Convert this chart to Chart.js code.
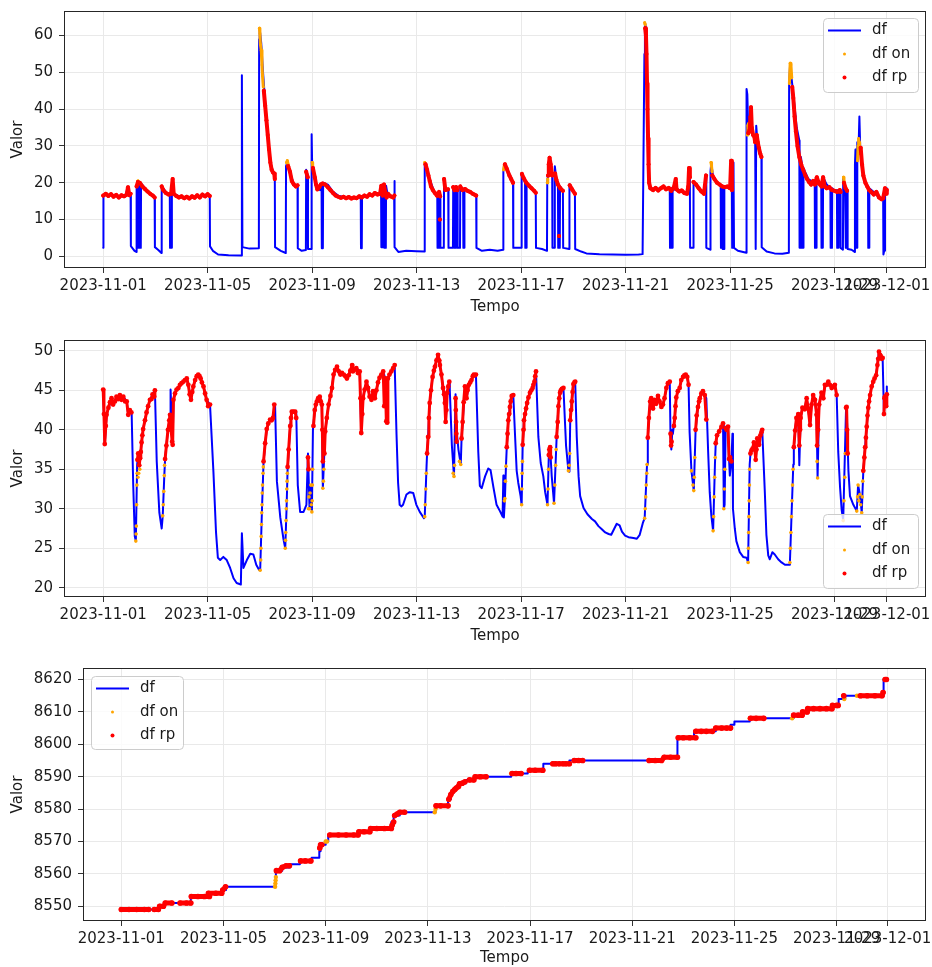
<!DOCTYPE html>
<html><head><meta charset="utf-8">
<script src="https://cdn.jsdelivr.net/npm/chart.js@4.4.1/dist/chart.umd.min.js"></script>
<style>
html,body{margin:0;padding:0;background:#fff;}
#wrap{position:relative;width:932px;height:967px;overflow:hidden;}
canvas{position:absolute;left:0;}
</style></head><body>
<div id="wrap">
<canvas id="c1" width="932" height="322" style="top:0px"></canvas>
<canvas id="c2" width="932" height="330" style="top:326px"></canvas>
<canvas id="c3" width="932" height="311" style="top:656px"></canvas>
</div>
<script>
// ---------- tick labels (x in days since 2023-11-01) ----------
const xTickDays = [0,4,8,12,16,20,24,28,30];
const xTickLabels = ['2023-11-01','2023-11-05','2023-11-09','2023-11-13','2023-11-17','2023-11-21','2023-11-25','2023-11-29','2023-12-01'];
const legendLabels = ['df','df on','df rp'];
const yTicks1 = [0,10,20,30,40,50,60];
const yTicks2 = [20,25,30,35,40,45,50];
const yTicks3 = [8550,8560,8570,8580,8590,8600,8610,8620];

// ---------- subplot 1 ----------
const df1 = [[0.00,2.3],[0.01,16.5],[0.3,16.8],[0.6,16.2],[0.85,16.5],[0.95,18.8],[1.0,16.5],[1.05,16.8],[1.06,2.8],[1.2,1.5],[1.27,1.2],[1.28,19.0],[1.3,19.5],[1.31,2.3],[1.35,2.3],[1.36,20.0],[1.39,19.8],[1.4,2.3],[1.44,2.3],[1.45,19.8],[1.6,18.5],[1.8,17.0],[1.97,16.0],[1.98,2.5],[2.1,1.8],[2.23,0.9],[2.24,19.0],[2.4,17.5],[2.55,16.5],[2.56,2.3],[2.62,2.3],[2.63,17.5],[2.66,21.0],[2.7,17.0],[3.0,16.0],[3.3,15.8],[3.6,16.2],[3.9,16.5],[4.08,16.3],[4.09,2.7],[4.2,1.5],[4.4,0.5],[4.8,0.3],[5.3,0.2],[5.31,49.2],[5.33,2.5],[5.6,2.1],[5.96,2.2],[5.97,59.0],[5.99,62.0],[6.05,58.0],[6.12,50.0],[6.18,44.0],[6.3,33.0],[6.42,25.0],[6.5,23.0],[6.57,22.0],[6.58,2.5],[6.8,1.5],[6.99,0.9],[7.0,24.5],[7.05,25.5],[7.15,23.0],[7.3,19.5],[7.44,19.0],[7.45,2.2],[7.6,1.5],[7.76,1.7],[7.77,23.5],[7.83,22.0],[7.84,2.0],[7.97,2.0],[7.98,33.2],[8.0,25.0],[8.05,23.0],[8.15,19.0],[8.3,18.0],[8.36,19.0],[8.37,2.2],[8.41,2.2],[8.42,20.0],[8.6,19.5],[8.8,17.5],[9.0,16.5],[9.3,15.9],[9.6,15.8],[9.86,16.0],[9.87,2.2],[9.9,2.2],[9.91,16.2],[10.2,16.5],[10.5,17.2],[10.64,16.5],[10.65,2.5],[10.7,2.5],[10.71,19.0],[10.76,18.5],[10.77,2.3],[10.82,2.3],[10.83,19.2],[10.87,17.5],[11.0,16.5],[11.14,16.0],[11.15,20.5],[11.16,2.5],[11.3,1.2],[11.6,1.5],[12.0,1.4],[12.3,1.3],[12.31,25.5],[12.35,24.5],[12.5,21.0],[12.65,18.0],[12.79,16.5],[12.8,2.3],[12.84,2.3],[12.85,17.5],[12.9,16.0],[12.91,2.3],[13.04,2.3],[13.05,21.2],[13.1,18.0],[13.21,18.0],[13.22,2.3],[13.39,2.3],[13.4,19.0],[13.45,18.0],[13.46,2.3],[13.5,2.3],[13.51,19.0],[13.56,18.0],[13.57,2.3],[13.66,2.3],[13.67,19.0],[13.78,18.0],[13.79,2.3],[13.82,2.3],[13.83,18.5],[14.0,17.5],[14.28,16.5],[14.29,2.3],[14.5,1.5],[14.8,1.8],[15.1,1.5],[15.31,1.8],[15.32,23.0],[15.35,25.0],[15.45,24.0],[15.6,21.5],[15.69,20.0],[15.7,2.3],[16.01,2.3],[16.02,22.4],[16.1,21.0],[16.15,20.0],[16.16,2.3],[16.2,2.3],[16.21,20.0],[16.4,18.5],[16.56,17.5],[16.57,2.3],[16.8,2.0],[16.99,1.5],[17.0,20.0],[17.08,26.5],[17.12,25.0],[17.19,22.0],[17.2,2.3],[17.28,2.3],[17.29,24.5],[17.35,21.0],[17.41,19.0],[17.42,2.3],[17.48,2.3],[17.49,19.0],[17.6,17.8],[17.61,2.3],[17.84,2.0],[17.85,19.5],[17.95,18.0],[18.06,17.0],[18.07,2.0],[18.3,1.3],[18.5,0.8],[19.0,0.6],[19.5,0.5],[20.0,0.4],[20.5,0.5],[20.65,0.6],[20.72,55.0],[20.74,63.5],[20.78,62.0],[20.82,45.0],[20.86,30.0],[20.9,20.0],[20.95,18.5],[21.2,18.2],[21.4,18.8],[21.6,18.3],[21.69,18.5],[21.7,2.3],[21.71,18.5],[21.72,2.3],[21.74,18.5],[21.75,2.3],[21.77,18.0],[21.78,2.3],[21.8,18.5],[21.91,18.0],[21.92,21.0],[21.94,18.5],[22.1,17.8],[22.3,17.0],[22.38,18.0],[22.42,24.0],[22.46,22.0],[22.47,2.3],[22.59,2.3],[22.6,20.2],[22.8,18.5],[23.0,17.0],[23.07,17.5],[23.08,22.0],[23.09,2.3],[23.24,1.8],[23.25,23.0],[23.28,25.5],[23.35,21.5],[23.5,20.0],[23.64,19.0],[23.65,2.3],[23.7,2.3],[23.71,19.0],[23.72,2.0],[23.77,2.0],[23.78,19.0],[23.95,18.5],[24.03,18.5],[24.04,26.0],[24.07,18.0],[24.08,2.3],[24.12,2.3],[24.13,25.5],[24.15,2.3],[24.3,1.5],[24.62,1.0],[24.63,45.5],[24.66,44.0],[24.7,33.0],[24.75,35.0],[24.8,40.0],[24.85,33.0],[24.96,32.0],[24.97,2.0],[24.99,2.0],[25.0,35.5],[25.05,31.0],[25.15,28.0],[25.2,27.0],[25.21,2.5],[25.4,1.3],[25.7,0.8],[26.0,0.7],[26.25,1.0],[26.26,47.0],[26.3,52.5],[26.36,48.0],[26.45,42.0],[26.55,35.0],[26.65,31.5],[26.66,2.3],[26.7,2.3],[26.71,27.0],[26.75,25.0],[26.76,2.3],[26.8,2.3],[26.81,24.0],[26.9,22.5],[27.0,21.0],[27.1,20.5],[27.24,19.5],[27.25,2.3],[27.3,2.3],[27.31,21.5],[27.4,20.0],[27.49,19.5],[27.5,2.3],[27.55,2.3],[27.56,21.5],[27.7,19.5],[27.84,18.5],[27.85,2.3],[27.9,2.3],[27.91,18.5],[28.05,17.5],[28.09,18.0],[28.1,2.3],[28.14,2.3],[28.15,18.0],[28.22,17.5],[28.23,2.3],[28.32,1.8],[28.33,21.5],[28.4,19.0],[28.43,2.3],[28.46,2.3],[28.47,18.0],[28.49,17.5],[28.5,2.0],[28.65,1.8],[28.77,1.2],[28.78,25.0],[28.8,29.0],[28.82,2.3],[28.86,2.3],[28.87,31.0],[28.92,30.0],[28.95,38.0],[28.98,30.0],[29.05,24.0],[29.1,22.0],[29.2,19.5],[29.28,19.0],[29.29,2.3],[29.32,2.3],[29.33,18.5],[29.5,17.5],[29.7,16.0],[29.86,15.5],[29.87,0.5],[29.9,1.5],[29.93,16.5],[29.97,18.5],[30.0,17.0]];
const on1 = [[1.33,20.5],[1.35,20.0],null,[5.98,62.0],[6.0,60.5],[6.02,57.5],[6.05,56.0],[6.08,52.0],[6.1,49.0],[6.13,46.0],null,[7.02,25.5],[7.05,26.0],[7.08,25.0],null,[8.0,25.5],[8.02,24.5],null,[12.31,25.5],[12.33,25.0],null,[15.33,23.5],[15.36,25.0],null,[17.0,20.0],[17.02,21.0],null,[20.73,63.5],[20.75,63.0],null,[23.27,25.5],[23.29,24.5],[23.31,23.0],null,[24.66,33.0],[24.68,35.5],[24.7,36.0],[24.72,33.5],null,[26.27,47.0],[26.3,52.5],[26.33,52.0],[26.36,48.5],null,[28.34,21.5],[28.36,20.5],null,[28.88,26.0],[28.9,30.0],[28.92,32.0],[28.94,31.0],[28.96,28.0]];
const rp1 = [[0.0,16.5],[0.1,17.0],[0.2,16.4],[0.3,16.9],[0.4,16.2],[0.5,16.7],[0.6,16.0],[0.7,16.6],[0.8,16.3],[0.9,16.8],[0.95,18.8],[1.0,16.6],[1.05,17.0],null,
[1.28,19.0],[1.33,20.2],[1.4,20.0],[1.5,19.0],[1.6,18.3],[1.7,17.6],[1.8,17.0],[1.9,16.5],[1.97,16.0],null,
[2.24,19.0],[2.3,18.0],[2.4,17.2],[2.5,16.8],[2.6,17.0],[2.66,21.0],[2.7,17.0],[2.8,16.4],[2.9,16.0],[3.0,16.3],[3.1,15.8],[3.2,16.2],[3.3,15.7],[3.4,16.3],[3.5,15.9],[3.6,16.6],[3.7,16.0],[3.8,16.8],[3.9,16.3],[4.0,16.9],[4.08,16.4],null,
[6.15,45.0],[6.2,41.0],[6.25,37.0],[6.3,33.0],[6.35,29.0],[6.4,25.5],[6.45,23.5],[6.5,22.8],[6.55,22.5],[6.57,21.0],null,
[7.08,24.5],[7.15,23.0],[7.22,20.5],[7.3,19.5],[7.38,19.0],[7.44,19.3],null,
[7.77,23.0],[7.83,21.5],null,
[8.03,24.0],[8.1,21.5],[8.15,19.5],[8.2,18.2],[8.27,18.8],[8.33,19.5],[8.4,19.8],[8.5,19.5],[8.6,18.8],[8.7,18.0],[8.8,17.2],[8.9,16.5],[9.0,16.2],[9.1,15.9],[9.2,16.2],[9.3,15.8],[9.4,16.1],[9.5,15.7],[9.6,16.0],[9.7,15.8],[9.8,16.3],[9.9,16.0],[10.0,16.5],[10.1,16.2],[10.2,16.9],[10.3,16.5],[10.4,17.2],[10.5,16.8],[10.6,17.0],[10.65,19.2],[10.7,16.5],[10.75,19.5],[10.8,17.2],[10.85,16.0],[10.9,17.0],[11.0,16.3],[11.1,16.0],[11.15,16.5],null,
[12.34,25.0],[12.4,23.5],[12.45,22.0],[12.5,20.5],[12.55,19.0],[12.62,18.0],[12.7,17.2],[12.78,16.5],[12.86,17.5],[12.9,16.3],null,
[12.89,10.0],null,
[13.05,21.0],[13.1,18.0],[13.2,18.2],null,
[13.4,18.8],[13.45,18.0],null,
[13.51,18.8],[13.56,18.0],null,
[13.67,19.0],[13.75,18.0],[13.85,18.3],[13.95,17.8],[14.05,17.5],[14.15,17.0],[14.28,16.5],null,
[15.38,25.0],[15.45,23.8],[15.55,22.0],[15.62,21.0],[15.69,20.0],null,
[16.03,22.4],[16.1,21.2],[16.2,20.0],[16.3,19.2],[16.4,18.5],[16.5,17.8],[16.56,17.3],null,
[17.03,22.0],[17.06,25.0],[17.09,26.8],[17.13,25.0],[17.19,22.0],null,
[17.3,22.5],[17.35,20.8],[17.41,19.5],[17.5,18.5],[17.6,17.8],null,
[17.45,5.5],null,
[17.86,19.3],[17.95,18.2],[18.06,17.0],null,
[20.75,62.0],[20.78,60.0],[20.8,55.0],[20.82,47.0],[20.84,40.0],[20.86,32.0],[20.88,25.0],[20.9,20.0],[20.95,18.5],[21.05,18.0],[21.15,18.6],[21.25,17.9],[21.35,18.5],[21.45,19.0],[21.55,18.2],[21.65,18.6],[21.75,17.8],[21.85,18.8],[21.92,21.0],[21.95,18.2],[22.05,17.6],[22.15,17.9],[22.25,17.2],[22.35,17.0],[22.4,19.0],[22.43,24.0],[22.46,21.5],null,
[22.6,20.2],[22.7,19.5],[22.8,18.5],[22.9,17.6],[23.0,17.0],[23.08,22.0],null,
[23.32,22.0],[23.4,21.0],[23.5,20.0],[23.6,19.5],[23.7,19.0],[23.8,18.8],[23.9,19.0],[24.0,18.5],[24.04,26.0],[24.07,18.0],null,
[24.7,33.5],[24.75,34.5],[24.78,38.0],[24.8,40.5],[24.83,35.0],[24.88,33.0],[24.93,32.5],[24.96,31.0],null,
[25.02,33.0],[25.06,31.0],[25.1,29.5],[25.15,28.0],[25.2,27.0],null,
[26.38,46.0],[26.42,43.0],[26.47,38.0],[26.52,34.0],[26.58,30.0],[26.65,27.0],[26.72,25.0],[26.8,23.5],[26.88,22.0],[26.95,21.0],[27.02,20.2],[27.1,19.5],[27.18,20.5],[27.25,19.5],[27.32,21.5],[27.4,19.8],[27.5,19.0],[27.56,21.5],[27.62,19.0],[27.7,18.5],[27.8,18.8],[27.9,18.0],[28.0,17.8],[28.1,17.5],[28.2,18.0],[28.23,17.5],null,
[28.36,20.0],[28.42,18.5],[28.48,17.8],null,
[29.0,29.5],[29.05,25.0],[29.1,22.0],[29.18,20.0],[29.25,19.0],[29.32,18.0],[29.4,17.5],[29.5,16.8],[29.6,17.5],[29.7,16.0],[29.8,15.5],[29.86,15.8],[29.93,18.5],[29.97,17.0],[30.0,18.0]];

// ---------- subplot 2 ----------
const df2 = [[0,45.0],[0.06,38.2],[0.13,41.9],[0.32,44.0],[0.38,43.2],[0.51,44.2],[0.64,44.4],[0.77,44.2],[0.9,43.6],[0.96,41.9],[1.02,42.5],[1.09,42.1],[1.15,33.0],[1.21,26.5],[1.25,25.9],[1.3,35.6],[1.34,37.0],[1.41,36.4],[1.47,38.4],[1.53,40.1],[1.66,42.2],[1.79,43.8],[1.89,44.5],[1.98,45.1],[2.05,36.0],[2.15,29.5],[2.24,27.5],[2.28,29.1],[2.34,34.2],[2.37,36.3],[2.45,39.0],[2.56,41.9],[2.58,45.1],[2.66,38.1],[2.69,43.8],[2.81,45.1],[2.94,45.7],[3.07,46.1],[3.2,46.5],[3.26,45.7],[3.36,43.8],[3.45,45.5],[3.58,46.8],[3.64,47.0],[3.73,46.5],[3.84,45.5],[3.96,43.8],[4.09,43.2],[4.22,34.7],[4.32,27.0],[4.39,23.8],[4.48,23.5],[4.6,23.9],[4.73,23.5],[4.86,22.5],[4.99,21.2],[5.11,20.6],[5.27,20.4],[5.31,26.9],[5.37,22.5],[5.5,23.5],[5.63,24.3],[5.75,24.2],[5.86,22.9],[5.96,22.3],[6.01,22.2],[6.08,30.0],[6.14,36.0],[6.26,40.1],[6.39,41.3],[6.5,41.5],[6.58,43.2],[6.65,33.5],[6.78,28.9],[6.9,26.2],[6.97,25.0],[7.02,30.0],[7.06,35.0],[7.16,40.5],[7.22,42.3],[7.35,42.3],[7.39,42.3],[7.45,33.0],[7.54,29.6],[7.67,29.6],[7.78,30.5],[7.84,37.0],[7.9,30.0],[7.95,33.0],[7.99,29.6],[8.03,40.0],[8.1,42.5],[8.18,43.6],[8.29,44.2],[8.37,43.2],[8.41,32.6],[8.5,39.8],[8.63,43.2],[8.76,45.3],[8.82,47.0],[8.95,48.0],[9.08,47.0],[9.21,47.0],[9.33,46.5],[9.46,47.5],[9.53,48.2],[9.56,47.4],[9.69,47.8],[9.82,47.4],[9.88,39.6],[9.95,44.0],[10.01,45.1],[10.08,46.1],[10.14,45.3],[10.2,44.2],[10.27,43.8],[10.33,44.9],[10.4,44.0],[10.52,46.0],[10.65,47.0],[10.72,47.4],[10.8,46.5],[10.84,41.1],[10.87,40.9],[10.9,46.5],[11.03,47.4],[11.16,48.2],[11.23,39.4],[11.29,33.3],[11.35,30.5],[11.42,30.3],[11.48,30.5],[11.61,31.8],[11.74,32.1],[11.87,32.0],[11.99,30.5],[12.12,29.6],[12.28,28.8],[12.31,29.0],[12.38,35.4],[12.4,37.0],[12.44,39.1],[12.5,43.4],[12.61,46.7],[12.7,48.0],[12.76,48.8],[12.82,49.5],[12.89,48.2],[12.95,47.0],[13.01,45.3],[13.08,43.4],[13.11,41.0],[13.17,44.7],[13.25,46.1],[13.27,45.0],[13.35,38.0],[13.43,34.1],[13.49,44.5],[13.53,40.0],[13.6,37.5],[13.69,35.6],[13.72,38.9],[13.85,45.5],[13.91,44.0],[14.0,45.7],[14.1,46.3],[14.19,47.0],[14.27,47.0],[14.36,37.2],[14.42,32.9],[14.49,32.6],[14.62,34.1],[14.74,35.1],[14.83,34.9],[14.94,32.7],[15.06,30.5],[15.19,29.7],[15.29,29.0],[15.32,34.2],[15.34,28.9],[15.38,31.3],[15.42,35.4],[15.45,37.8],[15.51,41.2],[15.57,42.9],[15.64,44.3],[15.7,44.4],[15.77,39.1],[15.83,34.8],[15.89,33.3],[15.98,31.6],[16.02,30.5],[16.06,38.1],[16.11,41.2],[16.19,42.7],[16.28,44.1],[16.34,44.7],[16.44,45.3],[16.51,46.1],[16.57,47.4],[16.66,39.1],[16.75,35.8],[16.85,34.1],[16.92,32.1],[17.01,30.5],[17.06,36.8],[17.11,37.8],[17.17,34.2],[17.26,30.7],[17.36,39.1],[17.43,43.0],[17.49,44.7],[17.56,45.2],[17.62,45.3],[17.72,38.0],[17.81,34.8],[17.85,34.7],[17.88,41.2],[17.94,43.6],[18.0,45.8],[18.07,46.1],[18.13,39.1],[18.2,34.1],[18.26,31.6],[18.39,30.1],[18.54,29.3],[18.71,28.7],[18.83,28.4],[18.96,27.8],[19.09,27.4],[19.22,27.0],[19.35,26.8],[19.45,26.7],[19.54,27.3],[19.66,28.1],[19.77,27.9],[19.86,27.1],[19.98,26.6],[20.11,26.4],[20.3,26.3],[20.43,26.2],[20.54,26.7],[20.66,28.2],[20.73,28.8],[20.82,35.6],[20.85,39.0],[20.89,41.5],[20.94,43.6],[20.98,44.0],[21.05,42.7],[21.11,43.8],[21.17,43.3],[21.24,44.3],[21.3,43.6],[21.37,42.9],[21.43,43.2],[21.49,44.0],[21.56,45.3],[21.62,45.9],[21.69,46.1],[21.72,39.0],[21.75,37.5],[21.79,40.0],[21.81,39.5],[21.88,41.5],[21.94,44.1],[22.0,44.9],[22.07,45.3],[22.13,46.3],[22.2,46.7],[22.3,47.0],[22.36,46.7],[22.41,45.7],[22.45,39.7],[22.52,34.8],[22.61,32.3],[22.68,40.0],[22.77,42.9],[22.84,44.0],[22.9,44.6],[22.96,44.9],[23.03,44.4],[23.09,44.0],[23.16,37.2],[23.22,32.1],[23.28,29.2],[23.35,27.2],[23.42,35.6],[23.45,38.3],[23.5,39.3],[23.58,39.8],[23.67,40.4],[23.73,40.8],[23.76,30.0],[23.79,30.5],[23.83,40.2],[23.92,40.4],[23.96,36.3],[23.99,34.2],[24.05,36.0],[24.09,39.5],[24.11,30.0],[24.18,27.5],[24.24,25.9],[24.37,24.5],[24.5,23.9],[24.63,23.8],[24.69,23.2],[24.75,35.6],[24.78,37.0],[24.86,37.6],[24.91,38.4],[24.98,36.2],[25.04,38.9],[25.11,38.1],[25.16,39.3],[25.23,40.0],[25.33,32.1],[25.39,26.7],[25.46,24.1],[25.52,23.6],[25.62,24.5],[25.71,24.2],[25.84,23.6],[25.97,23.2],[26.1,22.9],[26.26,22.9],[26.29,23.2],[26.42,35.6],[26.44,37.8],[26.49,39.9],[26.54,41.5],[26.61,42.0],[26.65,35.5],[26.7,41.5],[26.77,42.8],[26.86,42.6],[26.93,44.0],[26.99,42.7],[27.06,40.6],[27.12,43.2],[27.18,44.4],[27.25,43.8],[27.31,41.9],[27.35,33.9],[27.41,43.2],[27.5,44.7],[27.57,44.0],[27.63,45.7],[27.69,45.7],[27.76,46.1],[27.82,45.7],[27.89,45.3],[27.95,45.5],[28.01,45.7],[28.08,44.4],[28.14,37.2],[28.21,32.7],[28.27,29.9],[28.33,28.5],[28.44,42.8],[28.46,42.9],[28.53,34.8],[28.59,31.6],[28.72,30.5],[28.85,29.7],[28.9,33.0],[28.97,31.8],[29.04,29.5],[29.1,34.8],[29.17,37.8],[29.23,40.4],[29.29,42.8],[29.36,44.4],[29.42,45.5],[29.48,46.1],[29.59,46.9],[29.64,48.2],[29.7,49.9],[29.77,49.3],[29.84,49.1],[29.89,42.0],[29.93,44.2],[29.97,43.0],[30.0,45.5]];
const on2 = [[1.25,25.9],[1.26,26.8],[1.27,27.8],[1.28,30.5],[1.29,33.0],[1.3,34.5],[1.33,34.0],[1.36,34.5],[1.4,35.0],
[2.28,29.1],[2.3,30.5],[2.32,32.2],[2.34,34.2],[2.35,35.5],
[6.01,22.2],[6.03,23.5],[6.04,25.0],[6.05,26.5],[6.06,28.0],[6.07,29.5],[6.08,30.5],[6.09,32.0],[6.1,33.0],[6.12,34.5],[6.13,35.3],
[6.97,25.0],[6.98,26.0],[6.99,27.0],[7.0,28.5],[7.01,30.0],[7.02,31.0],[7.03,32.5],[7.04,33.5],[7.05,34.5],
[7.86,30.0],[7.88,31.5],[7.9,30.0],[7.92,32.0],[7.95,33.0],[7.97,30.5],[7.99,29.6],[8.0,31.0],[8.01,33.0],[8.02,35.0],
[8.41,32.6],[8.43,33.5],[8.45,35.0],
[12.31,29.0],[12.33,30.5],[12.35,32.5],[12.37,34.5],
[13.4,34.5],[13.43,34.1],[13.45,35.5],[13.64,36.0],[13.69,35.6],
[15.36,31.0],[15.38,31.3],[15.4,33.5],[15.42,35.4],
[16.02,30.5],[16.03,32.5],[16.04,34.5],[16.05,36.0],
[17.01,30.5],[17.03,32.5],[17.05,35.0],
[17.26,30.7],[17.29,33.0],[17.32,35.5],[17.34,37.5],
[17.81,34.8],[17.84,35.5],[17.86,37.0],
[20.73,28.8],[20.75,30.0],[20.77,31.5],[20.79,33.0],[20.81,34.5],[20.82,35.6],
[22.52,34.8],[22.58,33.0],[22.61,32.3],[22.63,34.0],[22.65,36.5],
[23.35,27.2],[23.37,29.0],[23.39,31.5],[23.41,34.0],[23.43,36.5],
[23.76,30.0],[23.78,32.5],[23.8,35.0],
[24.69,23.2],[24.7,25.0],[24.71,27.0],[24.72,29.0],[24.73,31.0],[24.74,33.0],[24.75,35.0],
[26.29,23.2],[26.31,25.0],[26.33,27.0],[26.35,29.0],[26.37,31.0],[26.39,33.0],[26.41,35.0],
[27.33,36.0],[27.35,33.9],
[28.33,28.5],[28.36,31.0],[28.39,34.0],[28.41,37.0],
[28.85,29.7],[28.88,31.5],[28.9,33.0],[28.93,31.0],[28.97,31.8],[29.0,30.5],[29.04,29.5],[29.06,31.5],[29.08,33.5]];
const rp2 = [[0.0,45.1],[0.03,42.0],[0.06,38.2],[0.1,40.5],[0.13,41.9],[0.2,42.8],[0.26,43.5],[0.32,44.0],[0.38,43.2],[0.45,43.6],[0.51,44.2],[0.58,43.9],[0.64,44.4],[0.7,43.8],[0.77,44.2],[0.84,43.6],[0.9,43.6],[0.96,41.9],[1.02,42.5],[1.08,42.2],null,
[1.31,36.2],[1.34,37.0],[1.38,35.5],[1.41,36.4],[1.44,37.2],[1.47,38.4],[1.5,39.3],[1.53,40.1],[1.6,41.2],[1.66,42.2],[1.72,43.0],[1.79,43.8],[1.85,43.9],[1.89,44.5],[1.95,44.2],[1.98,45.0],null,
[2.37,36.3],[2.42,38.0],[2.48,40.0],[2.53,41.2],[2.56,41.9],[2.6,40.0],[2.64,38.5],[2.66,38.1],[2.69,43.8],[2.75,44.6],[2.81,45.1],[2.88,45.3],[2.94,45.7],[3.0,45.9],[3.07,46.1],[3.13,46.3],[3.2,46.5],[3.26,45.7],[3.31,44.5],[3.36,43.8],[3.41,44.8],[3.45,45.5],[3.52,46.3],[3.58,46.8],[3.64,47.0],[3.69,46.8],[3.73,46.5],[3.78,46.0],[3.84,45.5],[3.9,44.6],[3.96,43.8],[4.02,43.0],[4.09,43.2],null,
[6.14,36.0],[6.2,38.3],[6.26,40.1],[6.32,40.8],[6.39,41.3],[6.45,41.2],[6.5,41.5],[6.55,43.2],null,
[7.06,35.3],[7.1,37.5],[7.16,40.5],[7.19,41.5],[7.22,42.3],[7.28,42.3],[7.35,42.3],[7.39,41.5],null,
[7.84,36.5],[7.86,35.0],null,
[8.05,40.5],[8.1,42.5],[8.14,43.2],[8.18,43.6],[8.23,44.0],[8.29,44.2],[8.33,43.6],[8.37,43.2],[8.39,40.0],[8.41,36.0],null,
[8.47,37.0],[8.5,39.8],[8.56,41.5],[8.63,43.2],[8.7,44.3],[8.76,45.3],[8.82,47.0],[8.88,47.6],[8.95,48.0],[9.02,47.4],[9.08,47.0],[9.14,47.2],[9.21,47.0],[9.27,46.8],[9.33,46.5],[9.4,46.9],[9.46,47.5],[9.53,48.2],[9.56,47.4],[9.62,47.6],[9.69,47.8],[9.75,47.2],[9.82,47.4],[9.85,44.0],[9.88,39.6],[9.92,42.0],[9.95,44.0],[10.01,45.1],[10.08,46.1],[10.14,45.3],[10.2,44.2],[10.27,43.8],[10.33,44.9],[10.4,44.0],[10.46,45.0],[10.52,46.0],[10.58,46.6],[10.65,47.0],[10.72,47.4],[10.76,43.0],[10.8,46.5],[10.84,41.1],[10.87,40.9],[10.9,46.5],[10.96,47.0],[11.03,47.4],[11.1,47.8],[11.16,48.2],null,
[12.4,37.0],[12.44,39.1],[12.47,41.5],[12.5,43.4],[12.55,45.0],[12.61,46.7],[12.66,47.5],[12.7,48.0],[12.76,48.8],[12.82,49.5],[12.86,48.8],[12.89,48.2],[12.95,47.0],[13.01,45.3],[13.05,44.5],[13.08,43.4],[13.11,41.0],[13.14,42.5],[13.17,44.7],[13.21,45.5],[13.25,46.1],null,
[13.49,44.0],[13.5,42.5],[13.51,41.0],[13.52,39.5],[13.53,38.5],null,
[13.72,38.9],[13.76,41.0],[13.8,43.5],[13.85,45.5],[13.88,44.8],[13.91,44.0],[13.95,45.0],[14.0,45.7],[14.05,46.0],[14.1,46.3],[14.15,46.8],[14.19,47.0],[14.23,46.9],[14.27,47.0],null,
[15.45,37.8],[15.48,39.5],[15.51,41.2],[15.54,42.0],[15.57,42.9],[15.6,43.6],[15.64,44.3],[15.7,44.4],null,
[16.06,38.1],[16.09,40.0],[16.11,41.2],[16.15,42.0],[16.19,42.7],[16.23,43.4],[16.28,44.1],[16.34,44.7],[16.39,45.0],[16.44,45.3],[16.47,45.7],[16.51,46.1],[16.54,46.8],[16.57,47.4],null,
[17.06,36.8],[17.08,37.5],[17.11,37.8],[17.13,36.5],null,
[17.36,39.1],[17.4,41.0],[17.43,43.0],[17.46,44.0],[17.49,44.7],[17.52,45.0],[17.56,45.2],[17.62,45.3],null,
[17.88,41.2],[17.91,42.5],[17.94,43.6],[17.97,44.8],[18.0,45.8],[18.04,46.0],[18.07,46.1],null,
[20.85,39.0],[20.89,41.5],[20.94,43.6],[20.98,44.0],[21.05,42.7],[21.11,43.8],[21.17,43.3],[21.24,44.3],[21.3,43.6],[21.37,42.9],[21.43,43.2],[21.49,44.0],[21.56,45.3],[21.62,45.9],[21.69,46.1],null,
[21.72,39.5],[21.74,38.0],[21.76,38.5],null,
[21.85,40.5],[21.88,41.5],[21.91,43.0],[21.94,44.1],[22.0,44.9],[22.07,45.3],[22.13,46.3],[22.2,46.7],[22.25,46.9],[22.3,47.0],[22.36,46.7],[22.41,45.7],null,
[22.68,40.0],[22.72,41.8],[22.77,42.9],[22.81,43.6],[22.84,44.0],[22.9,44.6],[22.96,44.9],[23.03,44.4],[23.09,41.3],null,
[23.45,38.3],[23.5,39.3],[23.58,39.8],[23.67,40.4],[23.73,40.8],null,
[23.83,40.2],[23.87,40.0],[23.92,40.4],[23.96,36.3],[24.0,36.5],[24.05,36.0],null,
[24.78,37.0],[24.82,37.4],[24.86,37.6],[24.91,38.4],[24.95,37.5],[24.98,36.2],[25.01,37.5],[25.04,38.9],[25.08,38.5],[25.11,38.1],[25.16,39.3],[25.2,39.7],[25.23,40.0],null,
[26.44,37.8],[26.49,39.9],[26.54,41.5],[26.61,42.0],[26.65,38.0],[26.68,40.0],[26.7,41.5],[26.77,42.8],[26.86,42.6],[26.93,44.0],[26.99,42.7],[27.06,40.6],[27.12,43.2],[27.18,44.4],[27.25,43.8],[27.31,41.9],[27.33,38.0],[27.37,40.0],[27.41,43.2],[27.5,44.7],[27.57,44.0],[27.63,45.7],[27.69,45.7],[27.76,46.1],[27.82,45.7],[27.89,45.3],[27.95,45.5],[28.01,45.7],[28.08,44.4],null,
[28.44,42.8],[28.46,42.9],[28.48,40.0],[28.5,37.0],null,
[29.1,34.8],[29.14,36.5],[29.17,37.8],[29.2,39.0],[29.23,40.4],[29.26,41.8],[29.29,42.8],[29.32,43.6],[29.36,44.4],[29.42,45.5],[29.48,46.1],[29.53,46.5],[29.59,46.9],[29.64,48.2],[29.67,49.0],[29.7,49.9],[29.74,49.5],[29.77,49.3],[29.8,49.0],[29.84,49.1],null,
[29.89,42.0],[29.91,44.0],[29.93,44.2],[29.95,43.5],[29.97,43.0],[30.0,44.5]];

// ---------- subplot 3 (counter, step changes) ----------
const df3 = [[0,8549],[1.5,8550],[1.7,8551],[2.72,8553],[3.41,8554],[3.95,8555],[4.1,8556],[6.03,8558],[6.05,8561],[6.3,8562],[6.6,8563],[6.99,8564],[7.45,8565],[7.75,8567],[7.8,8569],[8.0,8570],[8.1,8572],[9.27,8573],[9.73,8574],[10.57,8576],[10.66,8578],[10.9,8579],[12.3,8581],[12.79,8583],[12.9,8585],[13.0,8586],[13.11,8587],[13.24,8588],[13.5,8589],[13.83,8590],[15.26,8591],[15.91,8592],[16.52,8594],[17.54,8595],[21.2,8596],[21.77,8602],[22.42,8604],[23.27,8605],[23.85,8606],[24.0,8607],[24.6,8608],[26.32,8609],[26.65,8610],[26.85,8611],[27.82,8612],[28.08,8614],[28.34,8615],[29.84,8620],[30.0,8620]];
const on3 = [[6.02,8556],[6.03,8557],[6.04,8558],[6.05,8559],[6.99,8564],[8.0,8570],[8.05,8570],[12.27,8579],[12.3,8580],[15.26,8591],[15.98,8592],[24.6,8608],[26.26,8608],[28.3,8614],[28.8,8615]];
const rp3 = [[0,8549],[0.3,8549],[0.6,8549],[0.9,8549],[1.07,8549],null,[1.29,8549],[1.45,8549],null,[1.5,8550],[1.65,8550],null,[1.72,8551],[1.98,8551],null,[2.3,8551],[2.55,8551],[2.72,8551],null,[2.74,8553],[3.0,8553],[3.25,8553],[3.45,8553],null,[3.41,8554],[3.7,8554],[3.93,8554],null,[3.97,8555],[4.08,8556],null,
[6.07,8561],[6.2,8561],[6.3,8562],[6.45,8562.5],[6.58,8562.5],null,[7.02,8564],[7.2,8564],[7.42,8564],null,[7.77,8568],[7.8,8569],[7.85,8569],null,
[8.16,8572],[8.5,8572],[8.8,8572],[9.1,8572],[9.27,8572],null,[9.3,8573],[9.5,8573],[9.73,8573],null,[9.76,8574],[10.0,8574],[10.3,8574],[10.57,8574],null,[10.6,8575],[10.66,8576],null,[10.7,8578],[10.8,8578.5],[10.9,8579],[11.09,8579],null,
[12.32,8581],[12.5,8581],[12.79,8581],null,[12.82,8583],[12.9,8584.5],[12.98,8585.5],[13.05,8586],[13.11,8586.5],[13.2,8587],[13.24,8587.8],[13.35,8588],[13.45,8588.4],null,[13.63,8589],[13.8,8589],null,[13.85,8590],[14.05,8590],[14.28,8590],null,
[15.3,8591],[15.45,8591],[15.65,8591],null,[15.98,8592],[16.2,8592],[16.5,8592],null,[16.89,8594],[17.0,8594],[17.15,8594],null,[17.28,8594],[17.4,8594],[17.54,8594],null,[17.73,8595],[17.9,8595],[18.06,8595],null,
[20.66,8595],[20.9,8595],[21.15,8595],[21.25,8596],[21.5,8596],[21.77,8596],null,[21.8,8602],[22.0,8602],[22.25,8602],[22.49,8602],null,[22.49,8604],[22.7,8604],[22.9,8604],[23.14,8604],null,[23.27,8605],[23.5,8605],[23.7,8605],[23.85,8605],null,
[24.63,8608],[24.85,8608],[25.15,8608],null,[26.32,8609],[26.5,8609],[26.65,8609],null,[26.67,8610],[26.85,8610],null,[26.87,8611],[27.1,8611],[27.35,8611],[27.6,8611],[27.82,8611],null,[27.84,8612],[28.0,8612],[28.06,8612],null,
[28.28,8615],null,[28.93,8615],[29.2,8615],[29.5,8615],[29.78,8615],null,[29.82,8616],null,[29.9,8620],[29.95,8620]];

// ---------- drawing ----------
function toXY(arr){
  const out=[]; let px=0;
  for(const p of arr){ if(p){ out.push({x:p[0],y:p[1]}); px=p[0]; } else out.push({x:px,y:null}); }
  return out;
}
const FONT = {family:'"DejaVu Sans", sans-serif', size:15};
const TXT = '#1a1a1a';
const GRID = {color:'#e9e9e9', lineWidth:1, drawTicks:true, tickLength:5, tickColor:'#333333', tickWidth:1};

const frameLegend = {
  id:'frameLegend',
  afterDatasetsDraw(chart, args, o){
    const {ctx, chartArea:a} = chart;
    ctx.save();
    ctx.strokeStyle='#262626'; ctx.lineWidth=1;
    ctx.strokeRect(Math.round(a.left)+0.5, Math.round(a.top)+0.5, Math.round(a.right-a.left)-1, Math.round(a.bottom-a.top)-1);
    const bx = o.side==='right' ? a.right - o.dx - o.w : a.left + o.dx;
    const by = o.vert==='top' ? a.top + o.dy : a.bottom - o.dy - o.h;
    ctx.beginPath();
    if (ctx.roundRect) ctx.roundRect(bx+0.5, by+0.5, o.w, o.h, 4); else ctx.rect(bx+0.5, by+0.5, o.w, o.h);
    ctx.fillStyle='rgba(255,255,255,0.8)'; ctx.fill();
    ctx.strokeStyle='#cccccc'; ctx.stroke();
    const rows=[by+12.5, by+36, by+59.5];
    ctx.strokeStyle='#0000ff'; ctx.lineWidth=2;
    ctx.beginPath(); ctx.moveTo(bx+5, rows[0]); ctx.lineTo(bx+38, rows[0]); ctx.stroke();
    ctx.fillStyle='#ffa500'; ctx.beginPath(); ctx.arc(bx+21.5, rows[1], 1.5, 0, Math.PI*2); ctx.fill();
    ctx.fillStyle='#ff0000'; ctx.beginPath(); ctx.arc(bx+21.5, rows[2], 2, 0, Math.PI*2); ctx.fill();
    ctx.fillStyle=TXT; ctx.font='15px "DejaVu Sans", sans-serif'; ctx.textBaseline='middle'; ctx.textAlign='left';
    legendLabels.forEach((t,i)=>ctx.fillText(t, bx+49, rows[i]));
    ctx.restore();
  }
};

function makeChart(id, o){
  const common = {borderJoinStyle:'round', borderCapStyle:'round', tension:0};
  return new Chart(document.getElementById(id), {
    type:'line',
    data:{datasets:[
      Object.assign({label:legendLabels[0], data:toXY(o.df), borderColor:'#0000ff', borderWidth:2, pointRadius:0, stepped:o.stepped||false, order:3, spanGaps:true}, common),
      Object.assign({label:legendLabels[1], data:toXY(o.on), borderColor:'#ffa500', backgroundColor:'#ffa500', borderWidth:o.onW, showLine:o.onW>0, pointRadius:o.onR, pointBorderWidth:0, order:2, spanGaps:false}, common),
      Object.assign({label:legendLabels[2], data:toXY(o.rp), borderColor:'#ff0000', backgroundColor:'#ff0000', borderWidth:o.rpW, pointRadius:o.rpR, pointBorderWidth:0, order:1, spanGaps:false}, common)
    ]},
    options:{
      responsive:false, animation:false, devicePixelRatio:1, events:[],
      layout:{padding:{left:0, right:6, top:o.padTop, bottom:0}},
      plugins:{legend:{display:false}, tooltip:{enabled:false}, frameLegend:o.legend},
      scales:{
        x:{type:'linear', min:-1.5, max:31.5,
          afterBuildTicks:s=>{ s.ticks = xTickDays.map(v=>({value:v})); },
          afterFit:s=>{ s.height=o.xH; s.paddingLeft=0; s.paddingRight=0; },
          ticks:{autoSkip:false, maxRotation:0, minRotation:0, font:FONT, color:TXT, padding:4, callback:(v,i)=>xTickLabels[i]},
          grid:GRID, border:{display:false},
          title:{display:true, text:'Tempo', font:FONT, color:TXT, padding:{top:0, bottom:o.titlePad}}},
        y:{type:'linear', min:o.yMin, max:o.yMax,
          afterBuildTicks:s=>{ s.ticks = o.yTicks.map(v=>({value:v})); },
          afterFit:s=>{ s.width=o.yW; s.paddingTop=0; s.paddingBottom=0; },
          ticks:{font:FONT, color:TXT, padding:6, callback:v=>String(v)},
          grid:GRID, border:{display:false},
          title:{display:true, text:'Valor', font:FONT, color:TXT, padding:{top:9.3, bottom:0}}}
      }
    },
    plugins:[frameLegend]
  });
}

makeChart('c1', {df:df1, on:on1, rp:rp1, onW:3, onR:1.4, rpW:4, rpR:2, yMin:-3.17, yMax:66.67, yTicks:yTicks1, yW:64, padTop:11, xH:54, titlePad:6.3,
  legend:{side:'right', vert:'top', dx:8, dy:7, w:95, h:74}});
makeChart('c2', {df:df2, on:on2, rp:rp2, onW:0, onR:1.8, rpW:3, rpR:2.4, yMin:18.82, yMax:51.38, yTicks:yTicks2, yW:64, padTop:14, xH:59, titlePad:11,
  legend:{side:'right', vert:'bottom', dx:8, dy:9, w:95, h:74}});
makeChart('c3', {df:df3, on:on3, rp:rp3, onW:0, onR:2.2, rpW:5, rpR:2.8, stepped:'before', yMin:8545.45, yMax:8623.55, yTicks:yTicks3, yW:83, padTop:12, xH:46, titlePad:0,
  legend:{side:'left', vert:'top', dx:8, dy:8, w:92, h:73}});
</script>
</body></html>
